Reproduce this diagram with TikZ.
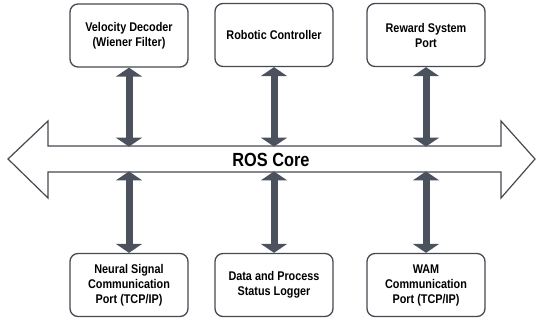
\documentclass[tikz,border=0pt]{standalone}
\usepackage{fontspec}
\setmainfont[FakeStretch=0.86]{Liberation Sans}
\usetikzlibrary{arrows.meta}
\definecolor{boxc}{HTML}{454A52}
\definecolor{arrc}{HTML}{4B525D}
\begin{document}
\begin{tikzpicture}[x=1pt,y=-1pt,
  box/.style={draw=boxc, line width=1.3pt, rounded corners=8pt, fill=white,
    minimum width=118pt, minimum height=63pt, align=center,
    font=\fontsize{12.6}{15}\selectfont\bfseries, inner sep=0pt},
  varrow/.style={draw=arrc, line width=7pt,
    {Triangle[width=26pt,length=9pt]}-{Triangle[width=26pt,length=9pt]}},
  core/.style={draw=boxc, line width=1.2pt, fill=white}]
\useasboundingbox (0,0) rectangle (537,320);
% big double arrow
\draw[core] (8,159) -- (48,121) -- (48,146) -- (501,146) -- (501,121) -- (535,159)
  -- (501,198) -- (501,172) -- (48,172) -- (48,198) -- cycle;
\coordinate (ctop) at (268,146.6);
\coordinate (cbot) at (268,171.4);
\node[font=\fontsize{19}{22}\selectfont\bfseries] (rc) at (271,160) {ROS Core};
% boxes
\node[box] (vd) at (129,35.5) {Velocity Decoder\\(Wiener Filter)};
\node[box] (rob) at (274,35) {Robotic Controller};
\node[box] (rew) at (426,35) {Reward System\\Port};
\node[box] (ns) at (129,285) {Neural Signal\\Communication\\Port (TCP/IP)};
\node[box] (dl) at (274,285) {Data and Process\\Status Logger};
\node[box] (wam) at (426,285) {WAM\\Communication\\Port (TCP/IP)};
% connectors
\draw[varrow] (vd.south) -- (vd.south |- ctop);
\draw[varrow] (rob.south) -- (rob.south |- ctop);
\draw[varrow] (rew.south) -- (rew.south |- ctop);
\draw[varrow] (ns.north) -- (ns.north |- cbot);
\draw[varrow] (dl.north) -- (dl.north |- cbot);
\draw[varrow] (wam.north) -- (wam.north |- cbot);
\end{tikzpicture}
\end{document}
